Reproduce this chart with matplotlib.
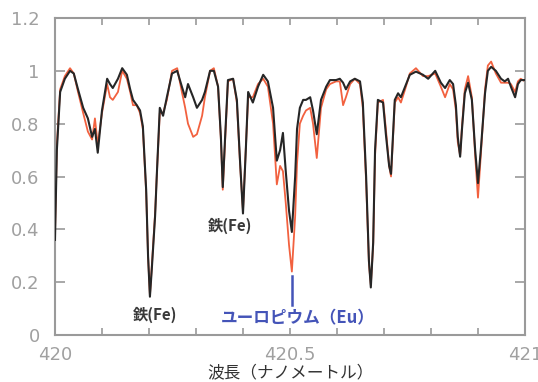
import matplotlib
matplotlib.use('Agg')
import matplotlib.pyplot as plt
import numpy as np

# wavelength grid (nm)
wavelength = [
    420.000, 420.004, 420.011, 420.021, 420.032, 420.040, 420.049, 420.060, 420.070, 420.079,
    420.085, 420.091, 420.100, 420.111, 420.117, 420.123, 420.134, 420.143, 420.153, 420.160,
    420.166, 420.174, 420.181, 420.187, 420.194, 420.198, 420.202, 420.206, 420.213, 420.217,
    420.223, 420.230, 420.238, 420.249, 420.260, 420.270, 420.277, 420.283, 420.294, 420.302,
    420.313, 420.319, 420.330, 420.338, 420.347, 420.353, 420.357, 420.362, 420.368, 420.379,
    420.387, 420.394, 420.400, 420.406, 420.411, 420.421, 420.432, 420.443, 420.453, 420.464,
    420.472, 420.479, 420.485, 420.491, 420.498, 420.504, 420.511, 420.515, 420.521, 420.528,
    420.534, 420.543, 420.549, 420.557, 420.566, 420.577, 420.585, 420.598, 420.606, 420.613,
    420.619, 420.628, 420.638, 420.649, 420.655, 420.662, 420.668, 420.672, 420.677, 420.681,
    420.687, 420.698, 420.704, 420.711, 420.715, 420.719, 420.723, 420.730, 420.736, 420.745,
    420.755, 420.768, 420.783, 420.794, 420.809, 420.821, 420.830, 420.840, 420.847, 420.853,
    420.857, 420.862, 420.866, 420.872, 420.879, 420.887, 420.894, 420.900, 420.906, 420.915,
    420.921, 420.928, 420.938, 420.949, 420.957, 420.964, 420.970, 420.979, 420.985, 420.991,
    421.000,
]

# observed spectrum (black)
observed = [
    0.36, 0.70, 0.92, 0.97, 1.00, 0.99, 0.93, 0.86, 0.82, 0.75,
    0.78, 0.69, 0.85, 0.97, 0.95, 0.935, 0.97, 1.01, 0.985, 0.93,
    0.89, 0.87, 0.85, 0.79, 0.55, 0.30, 0.145, 0.25, 0.45, 0.62,
    0.86, 0.83, 0.90, 0.99, 1.00, 0.94, 0.90, 0.95, 0.90, 0.86,
    0.89, 0.92, 1.00, 1.00, 0.94, 0.75, 0.56, 0.75, 0.965, 0.97,
    0.89, 0.65, 0.46, 0.70, 0.92, 0.88, 0.94, 0.985, 0.96, 0.86,
    0.66, 0.70, 0.765, 0.62, 0.47, 0.39, 0.60, 0.78, 0.86, 0.89,
    0.89, 0.90, 0.85, 0.76, 0.89, 0.94, 0.965, 0.965, 0.97, 0.955,
    0.93, 0.96, 0.97, 0.96, 0.88, 0.60, 0.28, 0.18, 0.35, 0.70,
    0.89, 0.88, 0.76, 0.64, 0.61, 0.75, 0.89, 0.915, 0.90, 0.94,
    0.985, 0.997, 0.985, 0.97, 1.00, 0.955, 0.935, 0.965, 0.95, 0.87,
    0.75, 0.675, 0.78, 0.915, 0.955, 0.89, 0.70, 0.575, 0.70, 0.915,
    1.00, 1.015, 1.00, 0.97, 0.96, 0.97, 0.94, 0.90, 0.95, 0.965,
    0.965,
]

# model spectrum (red)
model = [
    0.38, 0.72, 0.93, 0.98, 1.01, 0.99, 0.92, 0.84, 0.77, 0.74,
    0.82, 0.72, 0.84, 0.95, 0.90, 0.89, 0.92, 1.00, 0.97, 0.92,
    0.87, 0.87, 0.84, 0.78, 0.54, 0.30, 0.15, 0.26, 0.46, 0.62,
    0.84, 0.84, 0.89, 1.00, 1.01, 0.92, 0.86, 0.80, 0.75, 0.76,
    0.83, 0.90, 1.00, 1.01, 0.94, 0.74, 0.55, 0.74, 0.96, 0.97,
    0.88, 0.64, 0.47, 0.70, 0.90, 0.90, 0.95, 0.97, 0.94, 0.80,
    0.57, 0.64, 0.62, 0.50, 0.34, 0.24, 0.45, 0.65, 0.80, 0.83,
    0.85, 0.86, 0.80, 0.67, 0.86, 0.93, 0.95, 0.96, 0.96, 0.87,
    0.90, 0.95, 0.97, 0.95, 0.86, 0.58, 0.27, 0.19, 0.34, 0.68,
    0.88, 0.89, 0.78, 0.64, 0.60, 0.74, 0.88, 0.90, 0.88, 0.93,
    0.99, 1.01, 0.98, 0.98, 0.99, 0.94, 0.90, 0.95, 0.93, 0.85,
    0.73, 0.68, 0.79, 0.93, 0.98, 0.90, 0.68, 0.52, 0.68, 0.93,
    1.02, 1.035, 0.99, 0.955, 0.955, 0.955, 0.95, 0.92, 0.96, 0.97,
    0.96,
]

x_ticks = [420, 420.5, 421]
x_tick_labels = ['420', '420.5', '421']
y_ticks = [0, 0.2, 0.4, 0.6, 0.8, 1, 1.2]
y_tick_labels = ['0', '0.2', '0.4', '0.6', '0.8', '1', '1.2']

jp = ['Noto Sans CJK JP', 'DejaVu Sans']

fig = plt.figure(figsize=(5.38, 3.82), dpi=100)
ax = fig.add_axes([0.1022, 0.123, 0.8736, 0.8299])

ax.plot(wavelength, model, color='#f2613f', lw=1.3, zorder=2)
ax.plot(wavelength, observed, color='#262626', lw=1.5, zorder=3)

ax.set_xlim(420, 421)
ax.set_ylim(0, 1.2)
ax.set_xticks(x_ticks)
ax.set_xticklabels(x_tick_labels)
ax.set_xticks(np.arange(420, 421.01, 0.1), minor=True)
ax.set_yticks(y_ticks)
ax.set_yticklabels(y_tick_labels)

for s in ax.spines.values():
    s.set_color('#9a9a9a')
    s.set_linewidth(1.5)

ax.tick_params(axis='both', which='both', direction='in', colors='#9a9a9a',
               labelcolor='#a0a0a0', labelsize=13, width=1.2)
ax.tick_params(axis='x', which='both', top=True, length=5, pad=8)
ax.tick_params(axis='y', right=True, length=7, pad=11)

# annotations
ax.text(420.212, 0.078, '鉄(Fe)', family=jp, fontsize=11, fontweight='bold',
        color='#3a3a3a', ha='center', va='center')
ax.text(420.372, 0.415, '鉄(Fe)', family=jp, fontsize=11, fontweight='bold',
        color='#3a3a3a', ha='center', va='center')
ax.text(420.516, 0.062, 'ユーロピウム（Eu）', family=jp, fontsize=12,
        fontweight='bold', color='#4454b8', ha='center', va='center')
ax.plot([420.504, 420.504], [0.113, 0.222], color='#4454b8', lw=1.8)

ax.set_xlabel('波長（ナノメートル）', family=jp, fontsize=12, color='#333333',
              labelpad=0)

fig.savefig('out.png', dpi=100)
